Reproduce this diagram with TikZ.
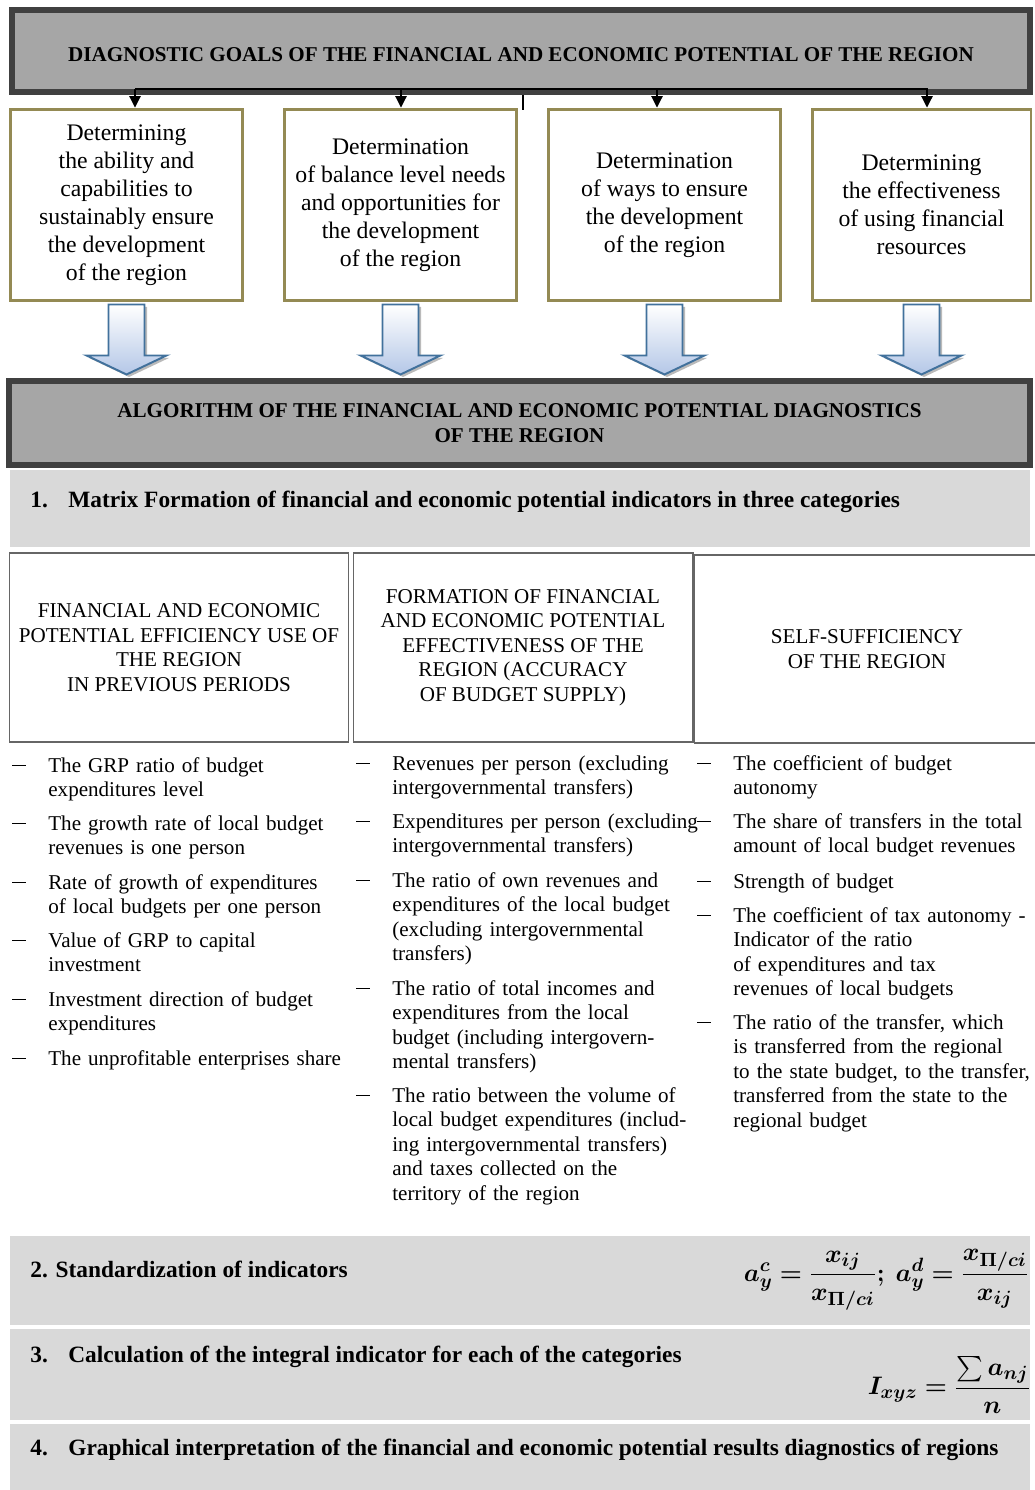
\documentclass[tikz,border=0pt]{standalone}
\usepackage{fontspec}
\usepackage{amsmath, bm}
\setmainfont{Liberation Serif}
\usetikzlibrary{arrows.meta}
\definecolor{framegray}{HTML}{404040}
\definecolor{headgray}{HTML}{A6A6A6}
\definecolor{khaki}{HTML}{948A54}
\definecolor{bandgray}{HTML}{D9D9D9}
\definecolor{catline}{HTML}{666666}
\definecolor{arrowblue}{HTML}{41719C}
\definecolor{arrowfill}{HTML}{B4C7E7}
\newcommand\indicline{\leavevmode\llap{\rule[3.4pt]{0.28cm}{0.5pt}\hspace{0.44cm}}}
\tikzset{
  headbox/.style={draw=framegray, line width=3.4pt, fill=headgray, align=center,
    inner sep=0pt, font=\fontsize{12}{14}\selectfont\bfseries},
  goalbox/.style={draw=khaki, line width=1.7pt, align=center, inner sep=0pt,
    minimum width=4.66cm, minimum height=3.84cm, font=\fontsize{13.5}{16}\selectfont},
  band/.style={fill=bandgray, inner sep=0pt, minimum width=20.4cm},
  steptext/.style={anchor=west, inner sep=0pt, font=\fontsize{13.3}{16}\selectfont\bfseries},
  catbox/.style={draw=catline, line width=0.6pt, align=center, inner sep=0pt,
    minimum width=6.8cm, minimum height=3.78cm, font=\fontsize{12}{14}\selectfont},
  indic/.style={anchor=base west, inner sep=0pt, text width=6.5cm, align=left,
    font=\fontsize{12}{14}\selectfont},
  formula/.style={anchor=east, inner sep=0pt, font=\fontsize{15.5}{18}\selectfont},
  goalarrow/.style={-{Triangle[length=6.5pt,width=6.5pt]}, line width=0.6pt},
  blockarrow/.style={draw=arrowblue, line width=1.1pt, top color=white, bottom color=arrowfill},
  blockshadow/.style={fill=black!45, opacity=0.6}
}
\begin{document}
\begin{tikzpicture}[x=0.02cm, y=-0.02cm]
\useasboundingbox (0,0) rectangle (1034,1490);
% goals
\node[headbox, minimum width=20.36cm, minimum height=1.64cm, text height=12.5pt, text depth=0pt] (hdr) at (521,51)
  {DIAGNOSTIC GOALS OF THE FINANCIAL AND ECONOMIC POTENTIAL OF THE REGION};
\node[goalbox] (g1) at (126.5,205) {Determining\\the ability and\\capabilities to\\sustainably ensure\\the development\\of the region};
\node[goalbox] (g2) at (400.5,205) {Determination\\of balance level needs\\and opportunities for\\the development\\of the region};
\node[goalbox] (g3) at (664.5,205) {Determination\\of ways to ensure\\the development\\of the region};
\node[goalbox, minimum width=4.38cm] (g4) at (921.5,205) {Determining\\the effectiveness\\of using financial\\resources};
\coordinate (busL) at (135,89);
\coordinate (busR) at (928,89);
\draw[line width=0.6pt] (busL) -- (busR);
\foreach \g/\xa in {g1/135, g2/401, g3/657, g4/927}
  \draw[goalarrow] (\xa,89) -- (\xa,0 |- \g.north);
\draw[line width=0.6pt] (523,95) -- (523,110);
\foreach \g in {g1,g2,g3,g4}{
  \fill[blockshadow, shift={(\g.south)}, xshift=0.05cm, yshift=-0.05cm]
    (-18,2) -- (-18,53) -- (-40,53) -- (0,72) -- (40,53) -- (18,53) -- (18,2) -- cycle;
  \draw[blockarrow, shift={(\g.south)}]
    (-18,2) -- (-18,53) -- (-40,53) -- (0,72) -- (40,53) -- (18,53) -- (18,2) -- cycle;
}
% algorithm
\node[headbox, minimum width=20.42cm, minimum height=1.68cm] (algo) at (519.5,423)
  {ALGORITHM OF THE FINANCIAL AND ECONOMIC POTENTIAL DIAGNOSTICS\\OF THE REGION};
\node[band, minimum height=1.54cm] (s1) at (520,508.5) {};
\node[steptext] (s1t) at (30,502) {\makebox[0.76cm][l]{1.}Matrix Formation of financial and economic potential indicators in three categories};
% categories
\node[catbox] (c1) at (179,647.5) {FINANCIAL AND ECONOMIC\\POTENTIAL EFFICIENCY USE OF\\THE REGION\\IN PREVIOUS PERIODS};
\node[catbox] (c2) at (523,647.5) {FORMATION OF FINANCIAL\\AND ECONOMIC POTENTIAL\\EFFECTIVENESS OF THE\\REGION (ACCURACY\\OF BUDGET SUPPLY)};
\node[catbox, minimum width=6.92cm, minimum height=3.76cm] (c3) at (867,649) {SELF-SUFFICIENCY\\OF THE REGION};
% indicators
\node[indic] (i11) at (48,772) {\indicline The GRP ratio of budget\\expenditures level};
\node[indic] (i12) at (48,830) {\indicline The growth rate of local budget\\revenues is one person};
\node[indic] (i13) at (48,889) {\indicline Rate of growth of expenditures\\of local budgets per one person};
\node[indic] (i14) at (48,947) {\indicline Value of GRP to capital\\investment};
\node[indic] (i15) at (48,1006) {\indicline Investment direction of budget\\expenditures};
\node[indic] (i16) at (48,1065) {\indicline The unprofitable enterprises share};
\node[indic] (i21) at (392,770) {\indicline Revenues per person (excluding\\intergovernmental transfers)};
\node[indic] (i22) at (392,828) {\indicline Expenditures per person (excluding\\intergovernmental transfers)};
\node[indic] (i23) at (392,887) {\indicline The ratio of own revenues and\\expenditures of the local budget\\(excluding intergovernmental\\transfers)};
\node[indic] (i24) at (392,995) {\indicline The ratio of total incomes and\\expenditures from the local\\budget (including intergovern-\\mental transfers)};
\node[indic] (i25) at (392,1102) {\indicline The ratio between the volume of\\local budget expenditures (includ-\\ing intergovernmental transfers)\\and taxes collected on the\\territory of the region};
\node[indic] (i31) at (733,770) {\indicline The coefficient of budget\\autonomy};
\node[indic] (i32) at (733,828) {\indicline The share of transfers in the total\\amount of local budget revenues};
\node[indic] (i33) at (733,888) {\indicline Strength of budget};
\node[indic] (i34) at (733,922) {\indicline The coefficient of tax autonomy -\\Indicator of the ratio\\of expenditures and tax\\revenues of local budgets};
\node[indic] (i35) at (733,1029) {\indicline The ratio of the transfer, which\\is transferred from the regional\\to the state budget, to the transfer,\\transferred from the state to the\\regional budget};
% steps 2-4
\node[band, minimum height=1.78cm] (s2) at (520,1280.5) {};
\node[steptext] (s2t) at (30,1269) {2. Standardization of indicators};
\node[formula] (f1) at (1029,1280) {$\bm{a_y^c = \dfrac{x_{ij}}{x_{\Pi/ci}};\ a_y^d = \dfrac{x_{\Pi/ci}}{x_{ij}}}$};
\node[band, minimum height=1.82cm] (s3) at (520,1374.5) {};
\node[steptext] (s3t) at (30,1357) {\makebox[0.76cm][l]{3.}Calculation of the integral indicator for each of the categories};
\node[formula] (f2) at (1031,1385) {$\bm{I_{xyz} = \dfrac{\sum a_{nj}}{n}}$};
\node[band, minimum height=1.42cm] (s4) at (520,1459.5) {};
\node[steptext] (s4t) at (30,1450) {\makebox[0.76cm][l]{4.}Graphical interpretation of the financial and economic potential results diagnostics of regions};
\end{tikzpicture}
\end{document}
